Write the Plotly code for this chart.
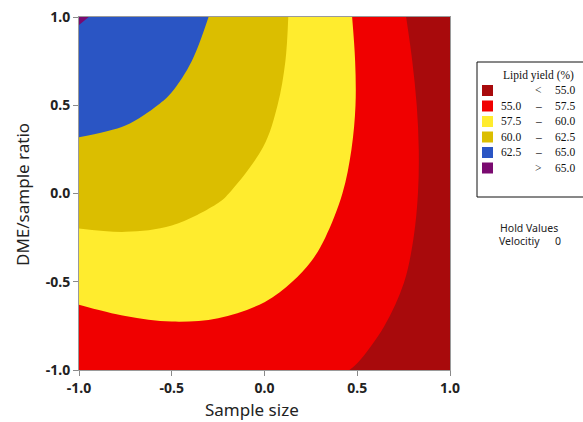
import plotly.graph_objects as go

# ---- data -------------------------------------------------------------
sample_size = [-1.0, -0.75, -0.5, -0.25, 0.0, 0.25, 0.5, 0.75, 1.0]
dme_ratio = [-1.0, -0.75, -0.5, -0.25, 0.0, 0.25, 0.5, 0.75, 1.0]
# lipid yield (%) read on the grid; rows = dme_ratio, cols = sample_size
lipid_yield = [
    [55.08, 55.67, 56.02, 56.11, 55.95, 55.54, 54.89, 53.98, 52.82],
    [56.76, 57.19, 57.38, 57.31, 57.00, 56.44, 55.62, 54.56, 53.25],
    [58.31, 58.59, 58.62, 58.40, 57.93, 57.21, 56.24, 55.02, 53.55],
    [59.73, 59.85, 59.73, 59.35, 58.73, 57.85, 56.72, 55.35, 53.72],
    [61.03, 61.00, 60.72, 60.18, 59.40, 58.37, 57.09, 55.55, 53.77],
    [62.21, 62.02, 61.58, 60.89, 59.95, 58.76, 57.32, 55.63, 53.70],
    [63.26, 62.91, 62.32, 61.47, 60.38, 59.03, 57.44, 55.59, 53.50],
    [64.18, 63.68, 62.93, 61.93, 60.68, 59.17, 57.42, 55.42, 53.17],
    [65.18, 64.32, 63.42, 62.26, 60.85, 59.19, 57.29, 55.13, 52.72],
]
levels = [55.0, 57.5, 60.0, 62.5, 65.0]
band_colors = ["#A80A0C", "#F00000", "#FFEC2E", "#DBBE00", "#2A55C4", "#7A0A70"]
band_left = ["", "55.0", "57.5", "60.0", "62.5", ""]
band_sym = ["<", "\u2013", "\u2013", "\u2013", "\u2013", ">"]
band_right = ["55.0", "57.5", "60.0", "62.5", "65.0", "65.0"]
tick_vals = [-1.0, -0.5, 0.0, 0.5, 1.0]
tick_text = ["-1.0", "-0.5", "0.0", "0.5", "1.0"]

# ---- figure -----------------------------------------------------------
W, H = 583, 422
PL, PR, PT, PB = 79, 450, 17, 370


def px(x):
    return (x - PL) / (PR - PL)


def py(y):
    return (PB - y) / (PB - PT)


n = len(band_colors)
colorscale = [[i / (n - 1), c] for i, c in enumerate(band_colors)]

fig = go.Figure(
    go.Contour(
        x=sample_size,
        y=dme_ratio,
        z=lipid_yield,
        autocontour=False,
        contours=dict(start=levels[0], end=levels[-1], size=levels[1] - levels[0],
                      coloring="fill", showlines=False),
        line=dict(width=0, smoothing=1.0),
        colorscale=colorscale,
        showscale=False,
        hoverinfo="skip",
    )
)

tickfont = dict(family="Noto Sans", size=14, color="#222222", weight="bold")
axis_common = dict(
    range=[-1, 1], tickvals=tick_vals, ticktext=tick_text, ticks="outside",
    ticklen=5, tickcolor="#8a8a8a", tickwidth=1, showline=True,
    linecolor="#9a9a9a", linewidth=1, mirror=True, showgrid=False,
    zeroline=False, tickfont=tickfont,
)
fig.update_xaxes(**axis_common)
fig.update_yaxes(**axis_common)

annotations = []
shapes = []
# axis titles
annotations.append(dict(text="Sample size", x=px(252), y=py(409), xref="paper", yref="paper",
                        showarrow=False, xanchor="center", yanchor="middle",
                        font=dict(family="Noto Sans", size=17, color="#222222")))
annotations.append(dict(text="DME/sample ratio", x=px(22), y=py(194), xref="paper", yref="paper",
                        showarrow=False, xanchor="center", yanchor="middle", textangle=-90,
                        font=dict(family="Noto Sans", size=17, color="#222222")))

# legend box
shapes.append(dict(type="rect", xref="paper", yref="paper", x0=px(477), x1=px(595),
                   y0=py(197), y1=py(62), line=dict(color="#111111", width=1),
                   fillcolor="white", layer="above"))
serif = dict(family="Liberation Serif", size=11.5, color="#111111")
annotations.append(dict(text="Lipid yield (%)", x=px(538.5), y=py(75), xref="paper", yref="paper",
                        showarrow=False, xanchor="center", yanchor="middle", font=serif))
for i in range(n):
    yc = 90.5 + 15.5 * i
    shapes.append(dict(type="rect", xref="paper", yref="paper", x0=px(482), x1=px(493),
                       y0=py(yc + 5.5), y1=py(yc - 5.5), line=dict(width=0),
                       fillcolor=band_colors[i], layer="above"))
    if band_left[i]:
        annotations.append(dict(text=band_left[i], x=px(523), y=py(yc), xref="paper", yref="paper",
                                showarrow=False, xanchor="right", yanchor="middle", font=serif))
    annotations.append(dict(text=band_sym[i], x=px(538), y=py(yc), xref="paper", yref="paper",
                            showarrow=False, xanchor="center", yanchor="middle", font=serif))
    annotations.append(dict(text=band_right[i], x=px(577), y=py(yc), xref="paper", yref="paper",
                            showarrow=False, xanchor="right", yanchor="middle", font=serif))

sans_small = dict(family="Noto Sans", size=10.5, color="#222222")
annotations.append(dict(text="Hold Values", x=px(498), y=py(228), xref="paper", yref="paper",
                        showarrow=False, xanchor="left", yanchor="middle", font=sans_small))
annotations.append(dict(text="Velocitiy", x=px(497), y=py(241), xref="paper", yref="paper",
                        showarrow=False, xanchor="left", yanchor="middle", font=sans_small))
annotations.append(dict(text="0", x=px(558), y=py(241), xref="paper", yref="paper",
                        showarrow=False, xanchor="center", yanchor="middle", font=sans_small))

fig.update_layout(
    width=W, height=H,
    margin=dict(l=PL, r=W - PR, t=PT, b=H - PB, autoexpand=False),
    paper_bgcolor="white", plot_bgcolor="white",
    showlegend=False,
    annotations=annotations, shapes=shapes,
)

fig.write_html("out.html")
